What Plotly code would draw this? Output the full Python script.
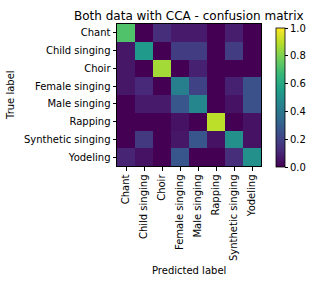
import plotly.graph_objects as go

labels = ["Chant", "Child singing", "Choir", "Female singing", "Male singing",
          "Rapping", "Synthetic singing", "Yodeling"]

# rows = true label, columns = predicted label
row_chant = [0.72, 0.00, 0.13, 0.07, 0.07, 0.00, 0.08, 0.00]
row_child = [0.06, 0.54, 0.00, 0.18, 0.18, 0.00, 0.18, 0.00]
row_choir = [0.06, 0.00, 0.86, 0.00, 0.09, 0.00, 0.00, 0.00]
row_female = [0.06, 0.11, 0.00, 0.43, 0.20, 0.00, 0.09, 0.25]
row_male = [0.00, 0.07, 0.07, 0.27, 0.46, 0.00, 0.05, 0.25]
row_rap = [0.00, 0.00, 0.00, 0.05, 0.00, 0.90, 0.00, 0.05]
row_synth = [0.00, 0.17, 0.00, 0.06, 0.27, 0.05, 0.50, 0.05]
row_yodel = [0.10, 0.05, 0.00, 0.27, 0.00, 0.00, 0.13, 0.50]

z = [row_chant, row_child, row_choir, row_female, row_male, row_rap, row_synth, row_yodel]

font = "DejaVu Sans"

L, R, T, B = 117, 261, 24, 166
W, H = R - L, B - T

fig = go.Figure(go.Heatmap(
    z=z, x=labels, y=labels,
    colorscale="Viridis", zmin=0, zmax=1,
    colorbar=dict(
        x=1 + 15 / W, xanchor="left", xpad=0, ypad=0,
        y=(B - 167) / H, yanchor="bottom", len=139 / H, lenmode="fraction",
        thickness=9, outlinewidth=0.8, outlinecolor="black",
        ticks="outside", ticklen=3, tickcolor="black",
        tickvals=[0, 0.2, 0.4, 0.6, 0.8, 1.0],
        ticktext=["0.0", "0.2", "0.4", "0.6", "0.8", "1.0"],
        tickfont=dict(family=font, size=10, color="black"),
    ),
))

fig.update_xaxes(
    type="category", tickangle=-90, ticks="outside", ticklen=3.5, tickcolor="black",
    showline=True, linecolor="black", linewidth=1, mirror=True, automargin=False,
    tickfont=dict(family=font, size=10, color="black"), showgrid=False,
)
fig.update_yaxes(
    type="category", autorange="reversed", ticks="outside", ticklen=3.5, tickcolor="black",
    showline=True, linecolor="black", linewidth=1, mirror=True, automargin=False,
    tickfont=dict(family=font, size=10, color="black"), showgrid=False,
)

def px(x):
    return (x - L) / W

def py(y):
    return (B - y) / H

fig.update_layout(
    width=315, height=288,
    margin=dict(l=L, r=315 - R, t=T, b=288 - B, autoexpand=False),
    paper_bgcolor="white", plot_bgcolor="white",
    annotations=[
        dict(text="Both data with CCA - confusion matrix", x=px(189), y=py(16),
             xref="paper", yref="paper", showarrow=False,
             xanchor="center", yanchor="middle",
             font=dict(family=font, size=12, color="black")),
        dict(text="True label", x=px(10), y=py(95), xref="paper", yref="paper",
             showarrow=False, textangle=-90, xanchor="center", yanchor="middle",
             font=dict(family=font, size=10, color="black")),
        dict(text="Predicted label", x=px(189), y=py(270), xref="paper", yref="paper",
             showarrow=False, xanchor="center", yanchor="middle",
             font=dict(family=font, size=10, color="black")),
    ],
)

fig.write_html("out.html", config={"displayModeBar": False},
               post_script="document.body.style.margin='0';document.body.style.overflow='hidden';")
